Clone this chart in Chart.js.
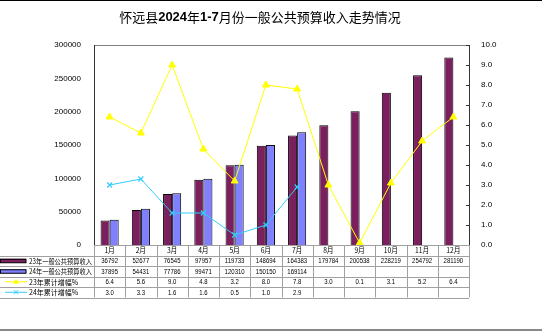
<!DOCTYPE html>
<html>
<head>
<meta charset="utf-8">
<script src="https://cdn.jsdelivr.net/npm/chart.js@4.4.1/dist/chart.umd.min.js"></script>
<style>
html,body{margin:0;padding:0;background:#fff;}
#wrap{width:542px;height:331px;position:relative;}
canvas{display:block;}
</style>
</head>
<body>
<div id="wrap"><canvas id="c" width="542" height="331"></canvas></div>
<script>
// ---- data ----
const months = ['1月','2月','3月','4月','5月','6月','7月','8月','9月','10月','11月','12月'];
const rev23 = [36792,52677,76545,97957,119733,148694,164383,179784,200538,228219,254792,281190];
const rev24 = [37895,54431,77786,99471,120310,150150,169114,null,null,null,null,null];
const growth23 = [6.4,5.6,9.0,4.8,3.2,8.0,7.8,3.0,0.1,3.1,5.2,6.4];
const growth24 = [3.0,3.3,1.6,1.6,0.5,1.0,2.9,null,null,null,null,null];
const seriesNames = ['23年一般公共预算收入','24年一般公共预算收入','23年累计增幅%','24年累计增幅%'];
const titleParts = [['怀远县',false],['2024',true],['年',false],['1-7',true],['月份一般公共预算收入走势情况',false]];
const leftAxis = {min:0, max:300000, step:50000};
const rightAxis = {min:0, max:10, step:1};

const C23 = '#7B1F5E', C24 = '#8080FF', CY = '#FFFF00', CC = '#33CCFF';
const GRID = '#a0a0a0';
const FONT = "'Liberation Sans', Arial, sans-serif";
const CJK = "'Noto Sans CJK SC', sans-serif";

function fitText(ctx, txt, x, y, scale){
  const w = ctx.measureText(txt).width;
  ctx.fillText(txt, x, y, w*scale);
}

const tablePlugin = {
  id:'tablePlugin',
  beforeDraw(chart){
    const ctx = chart.ctx;
    ctx.save();
    ctx.fillStyle = '#fff';
    ctx.fillRect(0,0,chart.width,chart.height);
    ctx.restore();
  },
  afterDraw(chart){
    const ctx = chart.ctx;
    const a = chart.chartArea;
    const xs = chart.scales.x, y1 = chart.scales.y1;
    ctx.save();
    // title
    ctx.textBaseline = 'middle';
    ctx.fillStyle = '#000';
    let total = 0;
    const fonts = titleParts.map(p => (p[1] ? 'bold 13px ' + FONT : '13px ' + CJK));
    titleParts.forEach((p,i)=>{ ctx.font = fonts[i]; total += ctx.measureText(p[0]).width; });
    let tx = 260 - total/2;
    ctx.textAlign = 'left';
    titleParts.forEach((p,i)=>{ ctx.font = fonts[i]; ctx.fillText(p[0], tx, 17); tx += ctx.measureText(p[0]).width; });

    // frame
    ctx.lineWidth = 1;
    ctx.strokeStyle = '#808080';
    ctx.beginPath(); ctx.moveTo(a.left, a.top+0.5); ctx.lineTo(a.right, a.top+0.5); ctx.stroke();
    ctx.strokeStyle = '#333';
    ctx.beginPath(); ctx.moveTo(a.left+0.5, a.top); ctx.lineTo(a.left+0.5, a.bottom); ctx.stroke();
    ctx.beginPath(); ctx.moveTo(a.right+0.5, a.top); ctx.lineTo(a.right+0.5, a.bottom); ctx.stroke();
    // right axis inner ticks
    for(let v=rightAxis.min; v<=rightAxis.max; v+=rightAxis.step){
      const py = Math.round(y1.getPixelForValue(v))+0.5;
      ctx.beginPath(); ctx.moveTo(a.right-3, py); ctx.lineTo(a.right, py); ctx.stroke();
    }

    // table
    const n = months.length;
    const cw = (a.right - a.left)/n;
    const rows = [a.bottom, 255.5, 266, 276.5, 287, 297.5];
    ctx.strokeStyle = GRID;
    ctx.lineWidth = 1;
    ctx.beginPath(); ctx.moveTo(a.left, Math.round(a.bottom)+0.5); ctx.lineTo(a.right, Math.round(a.bottom)+0.5); ctx.stroke();
    for(let r=1;r<rows.length;r++){
      const yy = Math.round(rows[r])+0.5;
      ctx.beginPath(); ctx.moveTo(0, yy); ctx.lineTo(a.right, yy); ctx.stroke();
    }
    for(let i=0;i<=n;i++){
      const xx = Math.round(a.left + i*cw)+0.5;
      ctx.beginPath(); ctx.moveTo(xx, a.bottom); ctx.lineTo(xx, rows[5]); ctx.stroke();
    }
    ctx.fillStyle = '#000';
    ctx.textAlign = 'center';
    ctx.textBaseline = 'middle';
    const rowsData = [rev23, rev24, growth23, growth24];
    for(let i=0;i<n;i++){
      const cx = xs.getPixelForValue(i);
      ctx.font = '7.5px ' + CJK;
      fitText(ctx, months[i], cx, (rows[0]+rows[1])/2, 0.9);
      ctx.font = '7.5px ' + FONT;
      rowsData.forEach((arr, r)=>{
        const v = arr[i];
        if(v===null || v===undefined) return;
        const txt = r<2 ? String(v) : v.toFixed(1);
        fitText(ctx, txt, cx, (rows[r+1]+rows[r+2])/2 + 0.5, 0.8);
      });
    }
    // legend column
    ctx.textAlign = 'left';
    ctx.font = '7px ' + CJK;
    seriesNames.forEach((name, r)=>{
      const cy = (rows[r+1]+rows[r+2])/2;
      if(r===0 || r===1){
        ctx.fillStyle = r===0 ? C23 : C24;
        ctx.fillRect(0, cy-2, 26, 4);
        ctx.strokeStyle = '#000';
        ctx.strokeRect(0.5, cy-1.5, 25.5, 3.5);
      } else {
        const col = r===2 ? CY : CC;
        ctx.strokeStyle = col; ctx.fillStyle = col;
        ctx.beginPath(); ctx.moveTo(5, cy); ctx.lineTo(27, cy); ctx.stroke();
        if(r===2){
          ctx.beginPath(); ctx.moveTo(16, cy-3); ctx.lineTo(19, cy+2); ctx.lineTo(13, cy+2); ctx.closePath(); ctx.fill();
        } else {
          ctx.beginPath(); ctx.moveTo(14, cy-2); ctx.lineTo(18, cy+2); ctx.moveTo(18, cy-2); ctx.lineTo(14, cy+2); ctx.stroke();
        }
      }
      ctx.fillStyle = '#000';
      const w = ctx.measureText(name).width;
      ctx.fillText(name, 29, cy+0.5, Math.min(w, 63));
    });

    // border lines
    ctx.fillStyle = '#000';
    ctx.fillRect(0,0,chart.width,1);
    ctx.fillStyle = '#888';
    ctx.fillRect(0,329,chart.width,2);
    ctx.restore();
  }
};

new Chart(document.getElementById('c'), {
  type:'bar',
  data:{
    labels: months,
    datasets:[
      {type:'line', label:seriesNames[2], data:growth23, yAxisID:'y1', borderColor:CY, backgroundColor:CY,
       borderWidth:1, pointStyle:'triangle', pointRadius:4, pointBackgroundColor:CY, pointBorderColor:CY, tension:0, order:1},
      {type:'line', label:seriesNames[3], data:growth24, yAxisID:'y1', borderColor:CC, backgroundColor:CC,
       borderWidth:1, pointStyle:'crossRot', pointRadius:3.5, pointBorderWidth:1.2, pointBorderColor:CC, tension:0, order:1, spanGaps:false},
      {label:seriesNames[0], data:rev23, yAxisID:'y', backgroundColor:C23, borderColor:'#000', borderWidth:1,
       categoryPercentage:0.58, barPercentage:1.0, order:2},
      {label:seriesNames[1], data:rev24, yAxisID:'y', backgroundColor:C24, borderColor:'#000', borderWidth:1,
       categoryPercentage:0.58, barPercentage:1.0, order:2}
    ]
  },
  options:{
    responsive:false,
    animation:false,
    devicePixelRatio:1,
    layout:{padding:{top:45,left:0,right:0,bottom:0}},
    plugins:{legend:{display:false}, title:{display:false}, tooltip:{enabled:false}},
    scales:{
      x:{grid:{display:false}, border:{display:false}, ticks:{display:false},
         afterFit(s){ s.height = 86; }},
      y:{position:'left', min:leftAxis.min, max:leftAxis.max, grid:{display:false}, border:{display:false},
         ticks:{stepSize:leftAxis.step, color:'#000', padding:5, font:{family:FONT, size:8},
                callback:v=>String(v)},
         afterFit(s){ s.width = 94; }},
      y1:{position:'right', min:rightAxis.min, max:rightAxis.max, grid:{display:false}, border:{display:false},
         ticks:{stepSize:rightAxis.step, color:'#000', padding:4, font:{family:FONT, size:8},
                callback:v=>Number(v).toFixed(1)},
         afterFit(s){ s.width = 73; }}
    }
  },
  plugins:[tablePlugin]
});
</script>
</body>
</html>
